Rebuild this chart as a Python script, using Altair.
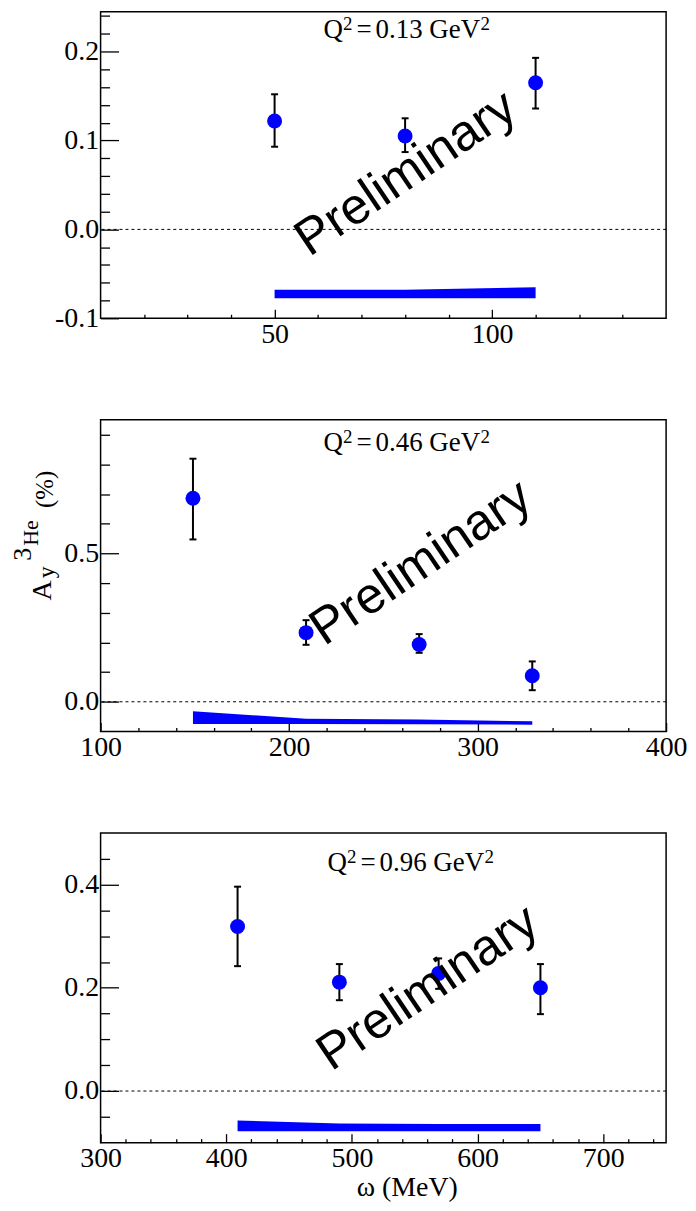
import altair as alt
import pandas as pd

BLUE = "#0000ff"
SERIF = "Liberation Serif"
SANS = "Liberation Sans"

# ---------------- data ----------------
# Panel 1 : Q^2 = 0.13 GeV^2
p1_q2 = "0.13"
p1_x = [50, 80, 110]
p1_y = [0.122, 0.105, 0.165]
p1_err_lo = [0.093, 0.087, 0.136]
p1_err_hi = [0.152, 0.125, 0.193]
p1_band_lo = [-0.0775, -0.0775, -0.0775]
p1_band_hi = [-0.068, -0.068, -0.065]
p1_xdomain = [10, 140]
p1_ydomain = [-0.1, 0.245]
p1_xmajor = [50, 100]
p1_xminor = [20, 30, 40, 60, 70, 80, 90, 110, 120, 130]
p1_ymajor = [-0.1, 0.0, 0.1, 0.2]
p1_yminor = [-0.08, -0.06, -0.04, -0.02, 0.02, 0.04, 0.06, 0.08,
             0.12, 0.14, 0.16, 0.18, 0.22, 0.24]

# Panel 2 : Q^2 = 0.46 GeV^2
p2_q2 = "0.46"
p2_x = [149, 209, 269, 329]
p2_y = [0.686, 0.233, 0.193, 0.088]
p2_err_lo = [0.547, 0.192, 0.165, 0.039]
p2_err_hi = [0.819, 0.275, 0.228, 0.136]
p2_band_lo = [-0.075, -0.075, -0.076, -0.077]
p2_band_hi = [-0.032, -0.057, -0.060, -0.066]
p2_xdomain = [100, 400]
p2_ydomain = [-0.1, 0.95]
p2_xmajor = [100, 200, 300, 400]
p2_xminor = [120, 140, 160, 180, 220, 240, 260, 280, 320, 340, 360, 380]
p2_ymajor = [0.0, 0.5]
p2_yminor = [0.1, 0.2, 0.3, 0.4, 0.6, 0.7, 0.8, 0.9]

# Panel 3 : Q^2 = 0.96 GeV^2
p3_q2 = "0.96"
p3_x = [409, 490, 569, 650]
p3_y = [0.319, 0.211, 0.228, 0.200]
p3_err_lo = [0.242, 0.176, 0.198, 0.149]
p3_err_hi = [0.396, 0.246, 0.257, 0.246]
p3_band_lo = [-0.078, -0.078, -0.078, -0.078]
p3_band_hi = [-0.057, -0.063, -0.064, -0.064]
p3_xdomain = [300, 750]
p3_ydomain = [-0.1, 0.5]
p3_xmajor = [300, 400, 500, 600, 700]
p3_xminor = [320, 340, 360, 380, 420, 440, 460, 480, 520, 540, 560, 580,
             620, 640, 660, 680, 720, 740]
p3_ymajor = [0.0, 0.2, 0.4]
p3_yminor = [-0.05, 0.05, 0.1, 0.15, 0.25, 0.3, 0.35, 0.45]

watermark = "Preliminary"
x_title = "ω (MeV)"
y_title_parts = ["A", "y", "3", "He", "(%)"]
q2_parts = ["Q", "2", "=", "GeV", "2"]

W = 568
LABEL_SIZE = 28
YFMT = "datum.value < 0 ? '-' + format(-datum.value, '.1f') : format(datum.value, '.1f')"


def text_layer(txt, x, y, size, font=SERIF, angle=0, align="center", baseline="alphabetic"):
    return alt.Chart(pd.DataFrame({"t": [txt]})).mark_text(
        font=font, fontSize=size, angle=angle, align=align, baseline=baseline, color="black"
    ).encode(text="t:N", x=alt.value(x), y=alt.value(y))


def q2_layers(value, x0, y0):
    # Q^2=value GeV^2 written with real superscripts
    return [
        text_layer(q2_parts[0], x0, y0, 27, align="left"),
        text_layer(q2_parts[1], x0 + 19.5, y0 - 8, 19, align="left"),
        text_layer(q2_parts[2], x0 + 40.6, y0, 27, align="center"),
        text_layer(value, x0 + 52.2, y0, 27, align="left"),
        text_layer(q2_parts[3], x0 + 106.2, y0, 27, align="left"),
        text_layer(q2_parts[4], x0 + 157.5, y0 - 8, 19, align="left"),
    ]


def panel(xv, yv, elo, ehi, blo, bhi, xdom, ydom, xmaj, xmin, ymaj, ymin, h,
          q2, lab_x, lab_y, wm_x, wm_y, extra=()):
    pts = pd.DataFrame({"x": xv, "y": yv, "lo": elo, "hi": ehi})
    band = pd.DataFrame({"x": xv, "blo": blo, "bhi": bhi})
    xs = alt.Scale(domain=xdom, nice=False, zero=False)
    ys = alt.Scale(domain=ydom, nice=False, zero=False)

    common = dict(domain=False, grid=False, tickColor="black", tickWidth=1.3,
                  labelFlush=False, labelOverlap=False, title=None)
    x_major = alt.Axis(orient="bottom", values=xmaj, offset=-9, tickSize=9,
                       labelPadding=2, format="d", labelFont=SERIF, labelFontSize=LABEL_SIZE,
                       labelColor="black", **common)
    x_minor = alt.Axis(orient="bottom", values=xmin, offset=-4, tickSize=4,
                       labels=False, **common)
    y_major = alt.Axis(orient="left", values=ymaj, offset=-18, tickSize=18,
                       labelPadding=2, labelExpr=YFMT, labelFont=SERIF, labelFontSize=LABEL_SIZE,
                       labelColor="black", **common)
    y_minor = alt.Axis(orient="left", values=ymin, offset=-9, tickSize=9,
                       labels=False, **common)

    band_l = alt.Chart(band).mark_area(color=BLUE, opacity=1).encode(
        x=alt.X("x:Q", scale=xs, axis=x_major),
        y=alt.Y("blo:Q", scale=ys, axis=y_major),
        y2="bhi:Q",
    )
    zero_l = alt.Chart(pd.DataFrame({"z": [0.0]})).mark_rule(
        color="black", strokeDash=[3, 3], strokeWidth=1
    ).encode(y=alt.Y("z:Q", scale=ys, axis=None))
    err_l = alt.Chart(pts).mark_rule(color="black", strokeWidth=2).encode(
        x=alt.X("x:Q", scale=xs, axis=x_minor),
        y=alt.Y("lo:Q", scale=ys, axis=y_minor),
        y2="hi:Q",
    )
    cap_lo = alt.Chart(pts).mark_rule(color="black", strokeWidth=2, xOffset=-3.5, x2Offset=3.5).encode(
        x=alt.X("x:Q", scale=xs, axis=None), x2="x:Q",
        y=alt.Y("lo:Q", scale=ys, axis=None),
    )
    cap_hi = alt.Chart(pts).mark_rule(color="black", strokeWidth=2, xOffset=-3.5, x2Offset=3.5).encode(
        x=alt.X("x:Q", scale=xs, axis=None), x2="x:Q",
        y=alt.Y("hi:Q", scale=ys, axis=None),
    )
    pts_l = alt.Chart(pts).mark_circle(color=BLUE, opacity=1, size=225).encode(
        x=alt.X("x:Q", scale=xs, axis=None),
        y=alt.Y("y:Q", scale=ys, axis=None),
    )
    wm_l = text_layer(watermark, wm_x, wm_y, 51, font=SANS, angle=326, baseline="middle")

    layers = [band_l, zero_l, err_l, cap_lo, cap_hi, pts_l, wm_l] + q2_layers(q2, lab_x, lab_y) + list(extra)
    return alt.layer(*layers).resolve_axis(x="independent", y="independent").properties(
        width=W, height=h
    )


# y-axis title pieces (panel 2) and left bound anchor
ytitle = [
    text_layer(y_title_parts[0], -50, 181.5, 28, angle=270, align="left"),
    text_layer(y_title_parts[1], -47, 159, 24, angle=270, align="left"),
    text_layer(y_title_parts[2], -70, 141.5, 26, angle=270, align="left"),
    text_layer(y_title_parts[3], -63, 126.5, 22, angle=270, align="left"),
    text_layer(y_title_parts[4], -47.5, 88.5, 25, angle=270, align="left"),
    alt.Chart(pd.DataFrame({"a": [0]})).mark_rule(opacity=0).encode(
        x=alt.value(-92), x2=alt.value(-92), y=alt.value(0), y2=alt.value(10)
    ),
]

c1 = panel(p1_x, p1_y, p1_err_lo, p1_err_hi, p1_band_lo, p1_band_hi, p1_xdomain, p1_ydomain,
           p1_xmajor, p1_xminor, p1_ymajor, p1_yminor, 308,
           p1_q2, 224, 26.5, 307, 163)
c2 = panel(p2_x, p2_y, p2_err_lo, p2_err_hi, p2_band_lo, p2_band_hi, p2_xdomain, p2_ydomain,
           p2_xmajor, p2_xminor, p2_ymajor, p2_yminor, 313,
           p2_q2, 224, 31.5, 322, 144, extra=ytitle)
c3 = panel(p3_x, p3_y, p3_err_lo, p3_err_hi, p3_band_lo, p3_band_hi, p3_xdomain, p3_ydomain,
           p3_xmajor, p3_xminor, p3_ymajor, p3_yminor, 311,
           p3_q2, 228, 38, 329, 156, extra=[text_layer(x_title, 308, 365, 28)])

chart = alt.vconcat(c1, c2, c3, spacing=102, bounds="flush").properties(
    padding={"left": 0, "top": 0, "right": 0, "bottom": 2}
).configure_view(stroke="black", strokeWidth=1.5)

chart.save("out.html", embed_options={"renderer": "svg", "actions": False})
